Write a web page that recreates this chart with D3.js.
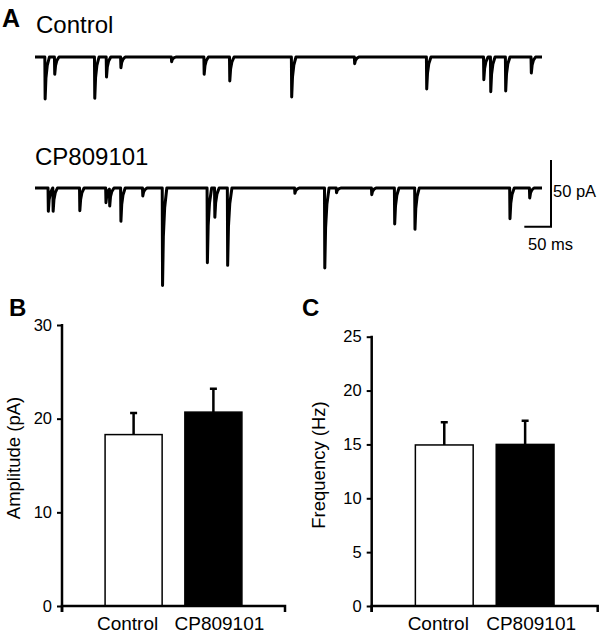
<!DOCTYPE html>
<html>
<head>
<meta charset="utf-8">
<script src="https://cdn.jsdelivr.net/npm/d3@7"></script>
<style>
  body { margin: 0; background: #fff; }
  svg { display: block; }
  text { font-family: Arial, "Liberation Sans", sans-serif; fill: #000; }
</style>
</head>
<body>
<svg id="fig" width="600" height="638"></svg>
<script>
// ---- data ----
const traceMs = 950;

// Control trace: event times (ms) and amplitudes (pA)
const controlTimes = [19, 37, 112, 134, 161, 256, 317, 365, 481, 599, 734, 841, 854, 882, 930];
const controlAmps = [31.5, 13, 31, 15, 8, 3.5, 13, 18, 30, 5, 24, 17, 26, 25.5, 12];

// CP809101 trace
const cpTimes = [25, 34, 84, 133, 140, 161, 202, 239, 323, 337, 361, 487, 543, 565, 631, 674, 712, 890, 927];
const cpAmps = [17.5, 17.5, 17, 11, 13, 25, 6, 73, 56, 22, 58, 4, 60, 3.5, 5, 27, 31, 23, 7.5];

const groups = ["Control", "CP809101"];
const groupFill = ["#fff", "#000"];

const ampMean = [18.3, 20.7];
const ampSem = [2.3, 2.5];
const ampTicks = [0, 10, 20, 30];

const freqMean = [14.95, 15.0];
const freqSem = [2.1, 2.2];
const freqTicks = [0, 5, 10, 15, 20, 25];

const svg = d3.select("#fig");

// ---- panel A: traces ----
const tx = d3.scaleLinear().domain([0, traceMs]).range([35, 542]);

// shape of one event, relative to its peak (ms -> fraction of amplitude)
const kernel = d3.scaleLinear()
  .domain([-0.6, 0, 1.5, 4, 8])
  .range([0, 1, 0.5, 0.2, 0])
  .clamp(true);

function tracePoints(times, amps) {
  let keys = [0, traceMs];
  times.forEach(t => [-0.6, 0, 1.5, 4, 8].forEach(o => keys.push(t + o)));
  keys = keys.filter(k => k >= 0 && k <= traceMs).sort((a, b) => a - b);
  return keys.map(k => [k, -d3.sum(times, (t, i) => amps[i] * kernel(k - t))]);
}

function drawTrace(times, amps, baseline) {
  let ty = d3.scaleLinear().domain([0, -50]).range([baseline, baseline + 66.7]);
  let line = d3.line().x(d => tx(d[0])).y(d => ty(d[1]));
  svg.append("path")
    .attr("d", line(tracePoints(times, amps)))
    .attr("fill", "none")
    .attr("stroke", "#000")
    .attr("stroke-width", 3)
    .attr("stroke-linejoin", "round");
  return ty;
}

svg.append("text").attr("x", 2).attr("y", 27)
  .style("font-size", "25px").style("font-weight", "bold").text("A");
svg.append("text").attr("x", 36).attr("y", 33)
  .style("font-size", "24px").text("Control");
svg.append("text").attr("x", 35).attr("y", 165)
  .style("font-size", "24px").text("CP809101");

drawTrace(controlTimes, controlAmps, 57);
let cpY = drawTrace(cpTimes, cpAmps, 188);

// scale bar 50 pA / 50 ms
const sbX = 551, sbY = 226.7;
const sbW = tx(50) - tx(0);
const sbH = cpY(-50) - cpY(0);
svg.append("path")
  .attr("d", `M${sbX},${sbY - sbH}V${sbY}H${sbX - sbW}`)
  .attr("fill", "none").attr("stroke", "#000").attr("stroke-width", 2);
svg.append("text").attr("x", sbX + 2).attr("y", 197)
  .style("font-size", "16.5px").text("50 pA");
svg.append("text").attr("x", 528).attr("y", 250)
  .style("font-size", "16.5px").text("50 ms");

// ---- panels B and C: bar charts ----
function barPanel(opt) {
  let g = svg.append("g");
  let x = d3.scaleBand().domain(groups)
    .range([opt.left, opt.right]).paddingInner(0.285).paddingOuter(0.54);
  let y = d3.scaleLinear().domain([0, opt.max]).range([606, opt.top]);

  // bars
  g.selectAll("rect.bar").data(groups).enter().append("rect")
    .attr("x", d => x(d))
    .attr("y", (d, i) => y(opt.mean[i]))
    .attr("width", x.bandwidth())
    .attr("height", (d, i) => y(0) - y(opt.mean[i]))
    .attr("fill", (d, i) => groupFill[i])
    .attr("stroke", "#000").attr("stroke-width", 1.5);

  // error bars (upper only)
  groups.forEach((d, i) => {
    let cx = x(d) + x.bandwidth() / 2;
    let top = y(opt.mean[i] + opt.sem[i]);
    g.append("path")
      .attr("d", `M${cx},${y(opt.mean[i])}V${top}M${cx - 3.5},${top}H${cx + 3.5}`)
      .attr("fill", "none").attr("stroke", "#000").attr("stroke-width", 2.5);
  });

  // y axis
  let yAxis = d3.axisLeft(y).tickValues(opt.ticks).tickSize(5).tickPadding(5);
  let ya = g.append("g").attr("transform", `translate(${opt.left},0)`).call(yAxis);
  ya.select(".domain").remove();
  ya.selectAll(".tick line").attr("stroke-width", 2);
  ya.selectAll(".tick text").style("font-size", "16.5px")
    .style("font-family", "Arial, 'Liberation Sans', sans-serif");
  g.append("line")
    .attr("x1", opt.left).attr("x2", opt.left)
    .attr("y1", y(opt.max) - 1).attr("y2", 612)
    .attr("stroke", "#000").attr("stroke-width", 2.5);

  // x axis with end ticks
  g.append("path")
    .attr("d", `M${opt.left},612V${y(0)}H${opt.right}V612`)
    .attr("fill", "none").attr("stroke", "#000").attr("stroke-width", 2.5);
  g.selectAll("text.cat").data(groups).enter().append("text")
    .attr("x", (d, i) => x(d) + x.bandwidth() / 2 + (i === 0 ? -6 : 6))
    .attr("y", 630)
    .attr("text-anchor", "middle")
    .style("font-size", "19px")
    .text(d => d);

  // axis title
  g.append("text")
    .attr("transform", `translate(${opt.titleX},${opt.titleY}) rotate(-90)`)
    .attr("text-anchor", "middle")
    .style("font-size", "18.5px")
    .text(opt.title);

  // panel letter
  g.append("text").attr("x", opt.letterX).attr("y", opt.letterY)
    .style("font-size", "24px").style("font-weight", "bold").text(opt.letter);
}

barPanel({
  left: 62, right: 285, top: 325, max: 30,
  mean: ampMean, sem: ampSem, ticks: ampTicks,
  title: "Amplitude (pA)", titleX: 20, titleY: 458,
  letter: "B", letterX: 9, letterY: 316
});

barPanel({
  left: 371.7, right: 597.7, top: 336.7, max: 25,
  mean: freqMean, sem: freqSem, ticks: freqTicks,
  title: "Frequency (Hz)", titleX: 325, titleY: 465,
  letter: "C", letterX: 302, letterY: 316
});
</script>
</body>
</html>
